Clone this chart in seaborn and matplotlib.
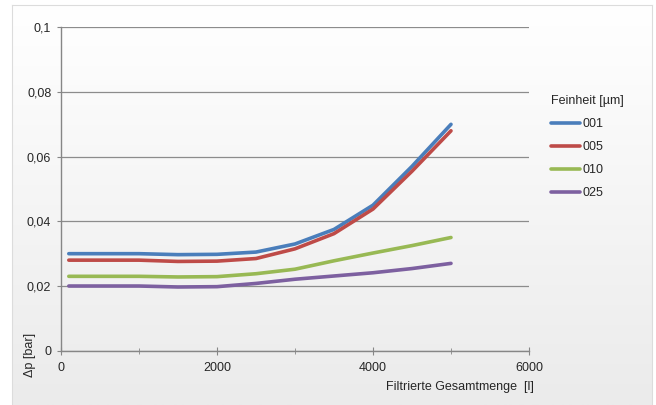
import numpy as np
import pandas as pd
import matplotlib
matplotlib.use("Agg")
import matplotlib.pyplot as plt
import seaborn as sns
from matplotlib.ticker import FuncFormatter, MultipleLocator

# values
menge = [100, 500, 1000, 1500, 2000, 2500, 3000, 3500, 4000, 4500, 5000]
dp_001 = [0.030, 0.030, 0.030, 0.0297, 0.0298, 0.0305, 0.033, 0.0375, 0.045, 0.057, 0.070]
dp_005 = [0.028, 0.028, 0.028, 0.0276, 0.0277, 0.0285, 0.0315, 0.0362, 0.0438, 0.0555, 0.068]
dp_010 = [0.023, 0.023, 0.023, 0.0228, 0.0229, 0.0238, 0.0252, 0.0278, 0.0302, 0.0325, 0.035]
dp_025 = [0.020, 0.020, 0.020, 0.0197, 0.0198, 0.0208, 0.0221, 0.0231, 0.0241, 0.0254, 0.027]
feinheit = ["001", "005", "010", "025"]
colors = ["#4a7ebb", "#be4b48", "#98b954", "#7d60a0"]

df = pd.concat([
    pd.DataFrame({"menge": menge, "dp": vals, "Feinheit": name})
    for name, vals in zip(feinheit, [dp_001, dp_005, dp_010, dp_025])
])

FS = 9

sns.set_style("white")
plt.rcParams["font.family"] = ["Liberation Sans", "DejaVu Sans"]
plt.rcParams["font.size"] = FS

fig = plt.figure(figsize=(6.56, 4.05), dpi=100)
fig.patch.set_facecolor("white")

# gradient background with thin border, like the spreadsheet chart area
bg = fig.add_axes([12 / 656, 0, 640 / 656, 400 / 405], zorder=-10)
grad = np.linspace(0, 1, 256).reshape(-1, 1)
bg.imshow(grad, aspect="auto", cmap=matplotlib.colors.LinearSegmentedColormap.from_list(
    "bg", ["#ffffff", "#ebebeb"]), extent=[0, 1, 1, 0])
bg.set_xticks([])
bg.set_yticks([])
for s in bg.spines.values():
    s.set_color("#dcdcdc")
    s.set_linewidth(0.8)
bg.spines["bottom"].set_visible(False)

ax = fig.add_axes([61 / 656, (405 - 350.7) / 405, 468 / 656, 323.4 / 405])
ax.patch.set_alpha(0)

sns.lineplot(data=df, x="menge", y="dp", hue="Feinheit", palette=colors,
             linewidth=2.6, ax=ax, legend=True)

ax.set_xlim(0, 6000)
ax.set_ylim(0, 0.1)
ax.xaxis.set_major_locator(MultipleLocator(2000))
ax.xaxis.set_minor_locator(MultipleLocator(1000))
ax.yaxis.set_major_locator(MultipleLocator(0.02))
ax.yaxis.set_major_formatter(FuncFormatter(
    lambda v, p: "0" if abs(v) < 1e-9 else f"{v:.2f}".rstrip("0").replace(".", ",")))

ax.grid(axis="y", color="#8c8c8c", linewidth=0.9)
ax.set_axisbelow(True)
for side in ["top", "right"]:
    ax.spines[side].set_visible(False)
for side in ["left", "bottom"]:
    ax.spines[side].set_color("#868686")
    ax.spines[side].set_linewidth(1.0)

ax.tick_params(axis="y", which="major", direction="out", length=3, color="#868686",
               labelsize=FS, pad=4, left=True)
ax.tick_params(axis="x", which="both", direction="inout", length=6, color="#868686",
               labelsize=FS, pad=5, bottom=True)
ax.tick_params(axis="x", which="minor", length=5)

ax.set_xlabel("")
ax.set_ylabel("")
fig.text(534 / 656, 1 - 387 / 405, "Filtrierte Gesamtmenge  [l]", ha="right", va="center",
         fontsize=FS)
fig.text(30 / 656, 1 - 355 / 405, "\u0394p [bar]", ha="center", va="center",
         rotation=90, fontsize=FS)

leg = ax.legend(title="Feinheit [\u00b5m]", frameon=False, loc="upper left",
                bbox_to_anchor=(551 / 656, 1 - 95 / 405), bbox_transform=fig.transFigure,
                handlelength=2.3, handletextpad=0.2, labelspacing=0.88, fontsize=FS,
                title_fontsize=FS, borderaxespad=0, borderpad=0)
leg._legend_box.align = "left"
for line in leg.get_lines():
    line.set_linewidth(2.6)

fig.savefig("out.png", dpi=100)
